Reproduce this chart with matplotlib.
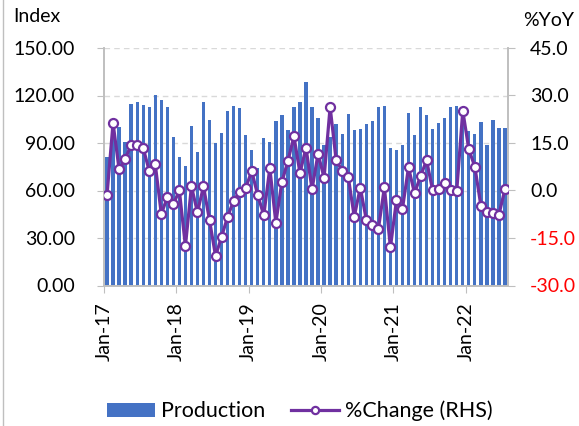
import numpy as np
import matplotlib
matplotlib.use("Agg")
import matplotlib.pyplot as plt
from matplotlib.lines import Line2D

plt.rcParams['font.family'] = ['Lato', 'DejaVu Sans']

# monthly data, Jan-17 .. Jul-22
years = ['Jan-17', 'Jan-18', 'Jan-19', 'Jan-20', 'Jan-21', 'Jan-22']

production = [
    81, 100, 100, 90.8, 114.7, 115.7, 114, 113, 120.5, 117.2, 112.8, 94.1,
    80.9, 75.7, 100.8, 84.5, 115.7, 104.8, 90, 96.2, 110.3, 113.4, 112.2, 95.2,
    85.7, 74.4, 92.9, 90.4, 103.6, 107.8, 98.3, 112.6, 116.1, 128.5, 112.6, 106.1,
    88.9, 94.1, 101.7, 96, 108.2, 98.5, 99, 102.1, 103.6, 112.6, 113.6, 86.8,
    85.7, 88.5, 109, 95, 113, 108, 99, 102.7, 105.9, 113, 113.6, 110.5,
    97.5, 95.4, 103.4, 88.5, 104.8, 99.4, 99.4,
]

pct_change = [
    -1.4, 21.3, 6.7, 9.8, 14.5, 14.5, 13.4, 6.2, 8.3, -7.4, -2.2, -4.3,
    0, -17.6, 1.3, -6.9, 1.3, -9.4, -20.7, -14.6, -8.3, -3.2, -0.4, 0.9,
    6.1, -1.5, -7.8, 7.1, -10.2, 2.7, 9.3, 17.1, 5.5, 13.5, 0.4, 11.6,
    4.0, 26.4, 9.5, 6.3, 4.4, -8.3, 0.9, -9.2, -10.8, -12.2, 1.0, -18.0,
    -3.1, -5.7, 7.3, -0.9, 4.6, 9.5, 0.1, 0.6, 2.3, 0.3, -0.1, 25.2,
    13.0, 7.5, -4.8, -6.7, -7.1, -7.6, 0.5,
]

bar_color = '#4472C4'
line_color = '#7030A0'
axis_gray = '#BFBFBF'

fig = plt.figure(figsize=(5.79, 4.26), dpi=100)
ax = fig.add_axes([104 / 579, 1 - 285.5 / 426, 404 / 579, 237.5 / 426])
ax2 = ax.twinx()

x = np.arange(len(production))

# bars (left axis)
ax.bar(x, production, width=0.55, color=bar_color, label='Production', zorder=2)
ax.set_ylim(0, 150)
ax.set_yticks(np.arange(0, 151, 30))
ax.set_yticklabels(['%.2f' % v for v in np.arange(0, 151, 30)])
ax.set_xlim(-0.5, len(production) - 0.5)
ax.set_xticks(np.arange(0, len(production), 12) - 0.5)
ax.set_xticklabels(years, rotation=90)

# dashed gridlines
for v in np.arange(30, 151, 30):
    ax.axhline(v, color='#D9D9D9', lw=1, ls=(0, (4, 3)), zorder=0)

# line (right axis)
ax2.plot(x, pct_change, color=line_color, lw=2.3, marker='o', ms=6.5,
         mfc='white', mec=line_color, mew=1.6, label='%Change (RHS)', zorder=3)
ax2.set_ylim(-30, 45)
ax2.set_yticks(np.arange(-30, 46, 15))
ax2.set_yticklabels(['%.1f' % v for v in np.arange(-30, 46, 15)])
for lab, v in zip(ax2.get_yticklabels(), np.arange(-30, 46, 15)):
    if v < 0:
        lab.set_color('red')

# spines and ticks
for a in (ax, ax2):
    a.spines['top'].set_visible(False)
    for s in ('left', 'right', 'bottom'):
        a.spines[s].set_color(axis_gray)
        a.spines[s].set_linewidth(1.2)
ax.tick_params(axis='y', length=5, color=axis_gray, pad=16, labelsize=14)
ax.tick_params(axis='x', length=5, color=axis_gray, pad=7, labelsize=14)
ax2.tick_params(axis='y', length=5, color=axis_gray, pad=11, labelsize=14)

# axis titles
fig.text(13 / 579, 1 - 16 / 426, 'Index', fontsize=14, va='center', ha='left')
fig.text(523 / 579, 1 - 20 / 426, '%YoY', fontsize=14, va='center', ha='left')

# left border line of the picture
fig.add_artist(Line2D([2.5 / 579, 2.5 / 579], [0, 1], color=axis_gray, lw=1))

# legend
h1, l1 = ax.get_legend_handles_labels()
h2, l2 = ax2.get_legend_handles_labels()
fig.legend(h1 + h2, l1 + l2, loc='center', bbox_to_anchor=(300 / 579, 1 - 411 / 426),
           ncol=2, frameon=False, fontsize=15.5, handlelength=2.2, handleheight=0.6,
           handletextpad=0.3, columnspacing=1.2, markerscale=0.8)

fig.savefig('out.png', dpi=100)
